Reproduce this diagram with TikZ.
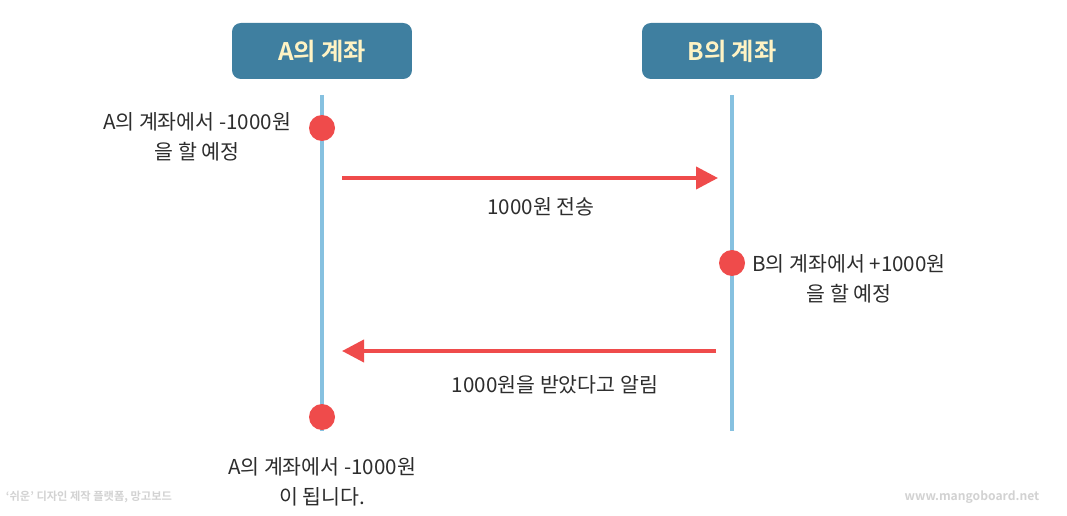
\documentclass[tikz,border=0pt]{standalone}
\usepackage{fontspec}
\setmainfont{Noto Sans CJK KR}[BoldFont={Noto Sans CJK KR Bold}]
\usetikzlibrary{positioning,arrows.meta}
\definecolor{acctblue}{RGB}{63, 127, 160}
\definecolor{acctcream}{RGB}{255, 243, 196}
\definecolor{lifeblue}{RGB}{134, 193, 224}
\definecolor{eventred}{RGB}{239, 75, 75}
\definecolor{labelgray}{RGB}{45, 45, 45}

\begin{document}
\begin{tikzpicture}[x=0.02cm, y=-0.02cm,
        acct/.style={fill=acctblue, draw=none, rounded corners=5pt,
                    minimum width=3.6cm, minimum height=1.12cm,
                    text=acctcream, font=\fontsize{13.8}{16}\selectfont\bfseries},
        lifeline/.style={lifeblue, line width=2.3pt},
        event/.style={circle, fill=eventred, minimum size=0.52cm, inner sep=0pt},
        msg/.style={eventred, line width=2.3pt,
                    -{Triangle[length=0.44cm, width=0.44cm]}},
        note/.style={align=center, text=labelgray,
                    font=\fontsize{11.7}{17}\selectfont},
        wmark/.style={text=gray!35, font=\fontsize{6.4}{8}\selectfont\bfseries},
        wmarkurl/.style={text=gray!35, font=\fontsize{6.9}{8}\selectfont\bfseries}
    ]
    \useasboundingbox (0,0) rectangle (1067,516);

    % Account headers
    \node[acct] (acctA) at (322, 51) {A의 계좌};
    \node[acct] (acctB) at (732, 51) {B의 계좌};

    % Lifelines
    \coordinate (topA) at (322, 95);
    \coordinate (botA) at (322, 431);
    \coordinate (topB) at (732, 95);
    \coordinate (botB) at (732, 431);
    \draw[lifeline] (topA) -- (botA);
    \draw[lifeline] (topB) -- (botB);

    % Events on the lifelines
    \node[event] (planA) at (322, 128) {};
    \node[event] (planB) at (732, 263) {};
    \node[event] (doneA) at (322, 417) {};

    % Messages
    \coordinate (sendS) at (342, 178);
    \coordinate (sendE) at (718, 178);
    \coordinate (ackS)  at (716, 351);
    \coordinate (ackE)  at (342, 351);
    \draw[msg] (sendS) -- (sendE);
    \draw[msg] (ackS) -- (ackE);

    % Labels
    \node[note] (planAtxt) at (197, 137) {A의 계좌에서 -1000원\\을 할 예정};
    \node[note] (sendtxt)  at (541, 207) {1000원 전송};
    \node[note] (planBtxt) at (849, 279) {B의 계좌에서 +1000원\\을 할 예정};
    \node[note] (acktxt)   at (555, 385) {1000원을 받았다고 알림};
    \node[note] (doneAtxt) at (322, 482) {A의 계좌에서 -1000원\\이 됩니다.};

    % Watermarks
    \node[wmark]    (wmL) at (89, 497) {`쉬운' 디자인 제작 플랫폼, 망고보드};
    \node[wmarkurl] (wmR) at (972, 497) {www.mangoboard.net};

    \end{tikzpicture}
\end{document}
